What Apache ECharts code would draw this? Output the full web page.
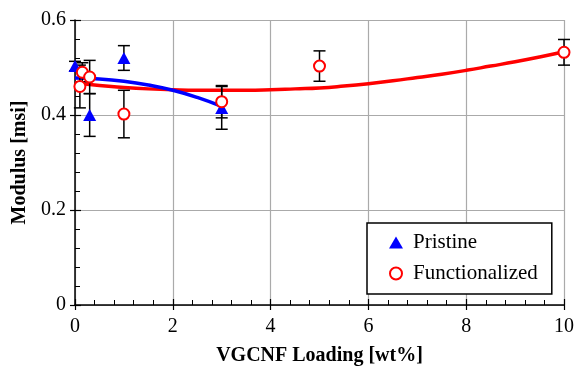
<!DOCTYPE html>
<html>
<head>
<meta charset="utf-8">
<script src="https://cdn.jsdelivr.net/npm/echarts@6/dist/echarts.min.js"></script>
<style>
  html, body { margin: 0; padding: 0; background: #fff; }
  #chart { width: 578px; height: 371px; }
</style>
</head>
<body>
<div id="chart"></div>
<script>
// measured points (wt% loading, modulus in msi, +/- error)
const pristineX = [0, 0.3, 1, 3];
const pristineY = [0.503, 0.400, 0.520, 0.415];
const pristineErr = [0.010, 0.045, 0.026, 0.045];

const funcX = [0.1, 0.15, 0.3, 1, 3, 5, 10];
const funcY = [0.460, 0.490, 0.480, 0.402, 0.428, 0.503, 0.532];
const funcErr = [0.045, 0.020, 0.035, 0.050, 0.034, 0.032, 0.027];

// fit curves
const pristineFitX = [0, 0.5, 1, 1.5, 2, 2.5, 3];
const pristineFitY = [0.478, 0.476, 0.471, 0.463, 0.452, 0.437, 0.418];

const funcFitX = [0, 0.5, 1, 1.5, 2, 2.5, 3, 3.5, 4, 4.5, 5, 5.5, 6, 6.5, 7, 7.5, 8, 8.5, 9, 9.5, 10];
const funcFitY = [0.468, 0.462, 0.458, 0.455, 0.453, 0.452, 0.452, 0.452, 0.453, 0.455, 0.457,
                  0.461, 0.466, 0.472, 0.479, 0.486, 0.494, 0.503, 0.512, 0.522, 0.533];

const xTicks = [0, 2, 4, 6, 8, 10];
const yTicks = [0, 0.2, 0.4, 0.6];

const FONT = '"Liberation Serif", "DejaVu Serif", serif';

const zip = (xs, ys) => xs.map((x, i) => [x, ys[i]]);
const zip3 = (xs, ys, es) => xs.map((x, i) => [x, ys[i], es[i]]);

function errorBar(params, api) {
  const x = api.value(0), y = api.value(1), e = api.value(2);
  const top = api.coord([x, y + e]);
  const bot = api.coord([x, y - e]);
  const w = 6;
  const st = { stroke: '#000', lineWidth: 1.5 };
  return {
    type: 'group',
    children: [
      { type: 'line', shape: { x1: top[0], y1: top[1], x2: bot[0], y2: bot[1] }, style: st },
      { type: 'line', shape: { x1: top[0] - w, y1: top[1], x2: top[0] + w, y2: top[1] }, style: st },
      { type: 'line', shape: { x1: bot[0] - w, y1: bot[1], x2: bot[0] + w, y2: bot[1] }, style: st }
    ]
  };
}

const chart = echarts.init(document.getElementById('chart'));

const baseX = { type: 'value', min: xTicks[0], max: xTicks[xTicks.length - 1], interval: 2 };
const baseY = { type: 'value', min: yTicks[0], max: yTicks[yTicks.length - 1], interval: 0.2 };

chart.setOption({
  animation: false,
  backgroundColor: '#fff',
  grid: { left: 75, right: 14, top: 20, bottom: 60 },
  legend: {
    orient: 'vertical',
    left: 367,
    top: 223,
    data: ['Pristine', 'Functionalized'],
    backgroundColor: '#fff',
    borderColor: '#000',
    borderWidth: 1.5,
    borderRadius: 0,
    padding: [9, 14, 10, 22],
    itemGap: 10,
    itemWidth: 14,
    itemHeight: 12,
    textStyle: { fontFamily: FONT, fontSize: 21, color: '#000', padding: [0, 0, 0, 5] }
  },
  xAxis: [
    Object.assign({}, baseX, {
      position: 'bottom',
      name: 'VGCNF Loading [wt%]',
      nameLocation: 'middle',
      nameGap: 41,
      nameTextStyle: { fontFamily: FONT, fontSize: 20, fontWeight: 'bold', color: '#000' },
      axisLine: { lineStyle: { color: '#000', width: 1.5 } },
      axisTick: { inside: true, length: 6, lineStyle: { color: '#000', width: 1.2 } },
      minorTick: { show: true, splitNumber: 5, length: 5, lineStyle: { color: '#000', width: 1 } },
      axisLabel: { fontFamily: FONT, fontSize: 20, color: '#000', margin: 12 },
      splitLine: { show: true, lineStyle: { color: '#aaa', width: 1.2 } }
    }),
    Object.assign({}, baseX, {
      position: 'bottom',
      axisLine: { show: false },
      axisTick: { inside: false, length: 5, lineStyle: { color: '#000', width: 1.2 } },
      axisLabel: { show: false },
      splitLine: { show: false }
    })
  ],
  yAxis: [
    Object.assign({}, baseY, {
      position: 'left',
      name: 'Modulus [msi]',
      nameLocation: 'middle',
      nameGap: 44,
      nameTextStyle: { fontFamily: FONT, fontSize: 20, fontWeight: 'bold', color: '#000' },
      axisLine: { show: true, lineStyle: { color: '#000', width: 1.5 } },
      axisTick: { show: true, inside: true, length: 6, lineStyle: { color: '#000', width: 1.2 } },
      minorTick: { show: true, splitNumber: 5, length: 5, lineStyle: { color: '#000', width: 1 } },
      axisLabel: { fontFamily: FONT, fontSize: 20, color: '#000', margin: 9 },
      splitLine: { show: true, lineStyle: { color: '#aaa', width: 1.2 } }
    }),
    Object.assign({}, baseY, {
      position: 'left',
      axisLine: { show: false },
      axisTick: { show: true, inside: false, length: 5, lineStyle: { color: '#000', width: 1.2 } },
      axisLabel: { show: false },
      splitLine: { show: false }
    })
  ],
  series: [
    {
      name: 'Functionalized fit',
      type: 'line',
      data: zip(funcFitX, funcFitY),
      smooth: true,
      showSymbol: false,
      lineStyle: { color: '#ff0000', width: 3.5 },
      z: 2
    },
    {
      name: 'Pristine fit',
      type: 'line',
      data: zip(pristineFitX, pristineFitY),
      smooth: true,
      showSymbol: false,
      lineStyle: { color: '#0000ff', width: 3.5 },
      z: 2
    },
    {
      name: 'Pristine err',
      type: 'custom',
      renderItem: errorBar,
      data: zip3(pristineX, pristineY, pristineErr),
      encode: { x: 0, y: 1 },
      z: 3
    },
    {
      name: 'Functionalized err',
      type: 'custom',
      renderItem: errorBar,
      data: zip3(funcX, funcY, funcErr),
      encode: { x: 0, y: 1 },
      z: 3
    },
    {
      name: 'Pristine',
      type: 'scatter',
      data: zip(pristineX, pristineY),
      symbol: 'triangle',
      symbolSize: [13, 12],
      itemStyle: { color: '#0000ff', opacity: 1 },
      z: 4
    },
    {
      name: 'Functionalized',
      type: 'scatter',
      data: zip(funcX, funcY),
      symbol: 'emptyCircle',
      symbolSize: 11,
      itemStyle: { color: '#ff0000', borderColor: '#ff0000', borderWidth: 1.2, opacity: 1 },
      z: 4
    }
  ]
});
</script>
</body>
</html>
